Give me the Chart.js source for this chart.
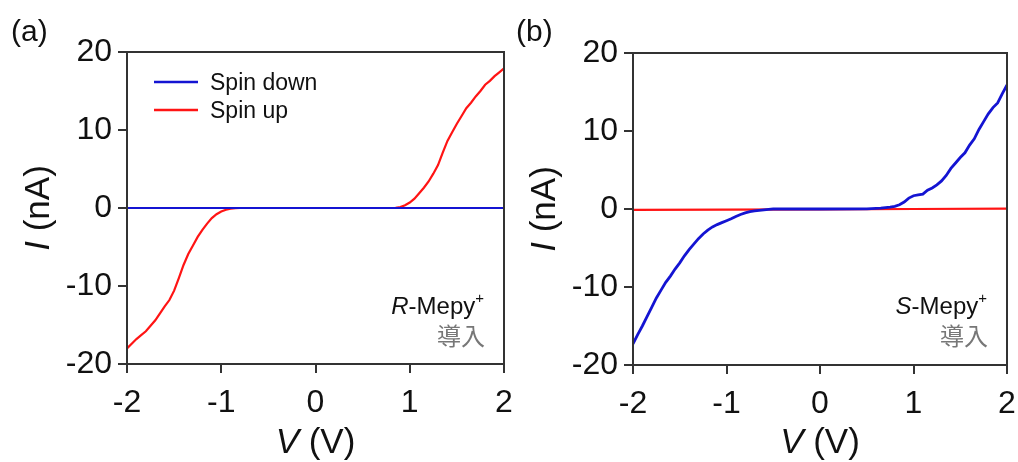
<!DOCTYPE html>
<html>
<head>
<meta charset="utf-8">
<script src="https://cdn.jsdelivr.net/npm/chart.js@4/dist/chart.umd.min.js"></script>
<style>
  html,body{margin:0;padding:0;background:#fff;}
  #wrap{position:relative;width:1018px;height:462px;overflow:hidden;}
  canvas{position:absolute;top:0;}
</style>
</head>
<body>
<div id="wrap">
  <canvas id="ca" width="530" height="462" style="left:0px"></canvas>
  <canvas id="cb" width="509" height="462" style="left:509px"></canvas>
</div>
<script>
// ---------- data ----------
const xTickValues = [-2, -1, 0, 1, 2];
const yTickValues = [-20, -10, 0, 10, 20];
const seriesNames = ['Spin down', 'Spin up'];

// Panel (a) R-Mepy+
const aDownV = [-2.0, -1.0, 0.0, 1.0, 2.0];
const aDownI = [0.0, 0.0, 0.0, 0.0, 0.0];
const aUpV = [-2.00,-1.95,-1.90,-1.85,-1.80,-1.75,-1.70,-1.65,-1.60,-1.55,-1.50,-1.45,-1.40,-1.35,-1.30,-1.25,-1.20,-1.15,-1.10,-1.05,-1.00,-0.95,-0.90,-0.85,-0.80,-0.40,0.00,0.40,0.80,0.85,0.90,0.95,1.00,1.05,1.10,1.15,1.20,1.25,1.30,1.35,1.40,1.45,1.50,1.55,1.60,1.65,1.70,1.75,1.80,1.85,1.90,1.95,2.00];
const aUpI = [-18.0,-17.4,-16.8,-16.3,-15.8,-15.1,-14.4,-13.5,-12.6,-11.8,-10.6,-9.0,-7.3,-5.9,-4.8,-3.7,-2.8,-2.0,-1.3,-0.8,-0.45,-0.22,-0.08,-0.02,0.0,0.0,0.0,0.0,0.0,0.02,0.12,0.35,0.7,1.2,1.9,2.6,3.4,4.4,5.5,7.1,8.6,9.7,10.8,11.8,12.8,13.5,14.3,15.0,15.8,16.3,16.9,17.4,17.9];

// Panel (b) S-Mepy+
const bDownV = [-2.00,-1.95,-1.90,-1.85,-1.80,-1.75,-1.70,-1.65,-1.60,-1.55,-1.50,-1.45,-1.40,-1.35,-1.30,-1.25,-1.20,-1.15,-1.10,-1.05,-1.00,-0.95,-0.90,-0.85,-0.80,-0.75,-0.70,-0.65,-0.60,-0.55,-0.50,0.00,0.50,0.55,0.60,0.65,0.70,0.75,0.80,0.85,0.90,0.95,1.00,1.05,1.10,1.15,1.20,1.25,1.30,1.35,1.40,1.45,1.50,1.55,1.60,1.65,1.70,1.75,1.80,1.85,1.90,1.95,2.00];
const bDownI = [-17.3,-16.1,-15.0,-13.8,-12.6,-11.4,-10.4,-9.4,-8.6,-7.7,-6.9,-6.0,-5.2,-4.5,-3.8,-3.2,-2.7,-2.3,-2.0,-1.75,-1.5,-1.25,-0.95,-0.7,-0.5,-0.35,-0.25,-0.17,-0.1,-0.05,0.0,0.0,0.02,0.05,0.08,0.12,0.18,0.25,0.35,0.55,0.9,1.4,1.7,1.8,1.9,2.4,2.7,3.1,3.6,4.3,5.2,5.9,6.6,7.2,8.2,9.0,10.2,11.2,12.2,13.0,13.6,14.8,15.9];
const bUpV = [-2.0, -1.0, 0.0, 1.0, 2.0];
const bUpI = [-0.12, -0.08, -0.04, 0.0, 0.05];

// ---------- helpers ----------
const FONT = '"Liberation Sans", Arial, sans-serif';
const CJK = '"Noto Sans CJK JP", "Noto Sans CJK SC", sans-serif';
const BLUE = '#1414d2';
const RED = '#ff1414';
const AXIS = '#333';
const H = 462;

function pts(V, I){ return V.map((v,i)=>({x:v, y:I[i]})); }

function framePlugin(opts){
  return {
    id:'deco',
    afterDraw(chart){
      const ctx = chart.ctx, a = chart.chartArea;
      ctx.save();
      ctx.strokeStyle = AXIS; ctx.lineWidth = 2;
      ctx.strokeRect(a.left, a.top, a.right - a.left, a.bottom - a.top);
      ctx.fillStyle = '#111';
      ctx.textBaseline = 'alphabetic';
      // panel label
      ctx.font = '30px ' + FONT;
      ctx.textAlign = 'left';
      ctx.fillText(opts.panel, opts.panelX, 41);
      // x axis title
      const xc = (a.left + a.right) / 2;
      ctx.font = 'italic 35px ' + FONT;
      const w1 = ctx.measureText('V').width;
      ctx.font = '35px ' + FONT;
      const w2 = ctx.measureText(' (V)').width;
      let sx = xc - (w1 + w2) / 2;
      ctx.font = 'italic 35px ' + FONT; ctx.fillText('V', sx, 453);
      ctx.font = '35px ' + FONT; ctx.fillText(' (V)', sx + w1, 453);
      // y axis title
      ctx.save();
      ctx.translate(opts.yTitleX, (a.top + a.bottom) / 2);
      ctx.rotate(-Math.PI / 2);
      ctx.font = 'italic 35px ' + FONT;
      const v1 = ctx.measureText('I').width;
      ctx.font = '35px ' + FONT;
      const v2 = ctx.measureText(' (nA)').width;
      let sy = -(v1 + v2) / 2;
      ctx.font = 'italic 35px ' + FONT; ctx.fillText('I', sy, 0);
      ctx.font = '35px ' + FONT; ctx.fillText(' (nA)', sy + v1, 0);
      ctx.restore();
      // legend
      if (opts.legend) {
        chart.data.datasets.forEach((d, k) => {
          const y = 82 + k * 28;
          ctx.strokeStyle = d.borderColor; ctx.lineWidth = 2.5;
          ctx.beginPath(); ctx.moveTo(a.left + 27, y); ctx.lineTo(a.left + 71, y); ctx.stroke();
          ctx.fillStyle = '#111';
          ctx.font = '23px ' + FONT; ctx.textAlign = 'left';
          ctx.fillText(d.label, a.left + 83, y + 8);
        });
      }
      // annotation
      const rx = a.right - 20;
      ctx.textAlign = 'left';
      ctx.font = '15px ' + FONT;
      const wp = ctx.measureText('+').width;
      ctx.font = '24px ' + FONT;
      const wm = ctx.measureText('-Mepy').width;
      ctx.font = 'italic 24px ' + FONT;
      const wr = ctx.measureText(opts.letter).width;
      let ax = rx - wp - wm - wr;
      ctx.fillStyle = '#111';
      ctx.fillText(opts.letter, ax, 314);
      ctx.font = '24px ' + FONT; ctx.fillText('-Mepy', ax + wr, 314);
      ctx.font = '15px ' + FONT; ctx.fillText('+', ax + wr + wm, 303);
      ctx.fillStyle = '#777';
      ctx.font = '24px ' + CJK; ctx.textAlign = 'right';
      ctx.fillText('導入', rx + 1, 345);
      ctx.restore();
    }
  };
}

function makeChart(id, datasets, area, deco){
  const canvas = document.getElementById(id);
  const W = canvas.width;
  return new Chart(canvas, {
    type: 'scatter',
    data: { datasets },
    options: {
      responsive: false, animation: false, devicePixelRatio: 1,
      layout: { padding: { left: 0, top: area.top, right: W - area.right, bottom: 0 } },
      plugins: { legend: { display: false }, tooltip: { enabled: false } },
      elements: { point: { radius: 0 }, line: { tension: 0 } },
      scales: {
        x: {
          type: 'linear', min: -2, max: 2,
          afterBuildTicks: s => { s.ticks = xTickValues.map(v => ({ value: v })); },
          afterFit: s => { s.height = H - area.bottom; s.paddingLeft = 0; s.paddingRight = 0; },
          grid: { drawOnChartArea: false, drawTicks: true, tickLength: 9, color: AXIS, lineWidth: 2 },
          border: { color: AXIS, width: 2 },
          ticks: { font: { family: FONT, size: 32 }, color: '#111', padding: 11, maxRotation: 0,
                   callback: v => String(v) }
        },
        y: {
          type: 'linear', min: -20, max: 20,
          afterBuildTicks: s => { s.ticks = yTickValues.map(v => ({ value: v })); },
          afterFit: s => { s.width = area.left; s.paddingTop = 0; s.paddingBottom = 0; },
          grid: { drawOnChartArea: false, drawTicks: true, tickLength: 9, color: AXIS, lineWidth: 2 },
          border: { color: AXIS, width: 2 },
          ticks: { font: { family: FONT, size: 32 }, color: '#111', padding: 6,
                   callback: v => String(v) }
        }
      }
    },
    plugins: [framePlugin(deco)]
  });
}

makeChart('ca', [
  { label: seriesNames[0], data: pts(aDownV, aDownI), showLine: true, borderColor: BLUE, borderWidth: 2.2, pointRadius: 0 },
  { label: seriesNames[1], data: pts(aUpV, aUpI), showLine: true, borderColor: RED, borderWidth: 2.2, pointRadius: 0 }
], { left: 127, right: 504, top: 52, bottom: 364 },
   { panel: '(a)', panelX: 11, yTitleX: 49, legend: true, letter: 'R' });

makeChart('cb', [
  { label: seriesNames[0], data: pts(bDownV, bDownI), showLine: true, borderColor: BLUE, borderWidth: 2.8, pointRadius: 0 },
  { label: seriesNames[1], data: pts(bUpV, bUpI), showLine: true, borderColor: RED, borderWidth: 2.2, pointRadius: 0 }
], { left: 124, right: 498, top: 53, bottom: 365 },
   { panel: '(b)', panelX: 7, yTitleX: 46, legend: false, letter: 'S' });
</script>
</body>
</html>
